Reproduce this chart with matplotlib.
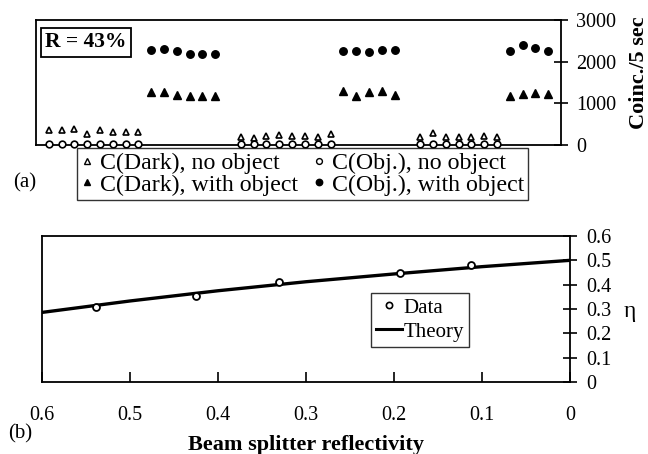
import matplotlib
matplotlib.use("Agg")
import matplotlib.pyplot as plt
from matplotlib.lines import Line2D

plt.rcParams['font.family'] = ['Liberation Serif', 'DejaVu Serif']

# ---------------- Panel (a) data ----------------
# measurement index along the run
idx_dark_noobj_1 = [0, 1, 2, 3, 4, 5, 6, 7]
idx_with_1 = [8, 9, 10, 11, 12, 13]
idx_dark_noobj_2 = [15, 16, 17, 18, 19, 20, 21, 22]
idx_with_2 = [23, 24, 25, 26, 27]
idx_dark_noobj_3 = [29, 30, 31, 32, 33, 34, 35]
idx_with_3 = [36, 37, 38, 39]

dark_noobj_1 = [360, 360, 375, 265, 360, 320, 320, 320]
dark_noobj_2 = [200, 160, 215, 240, 225, 215, 200, 255]
dark_noobj_3 = [200, 280, 185, 200, 185, 225, 185]

obj_noobj_1 = [25, 25, 25, 25, 25, 25, 25, 25]
obj_noobj_2 = [20, 20, 20, 20, 20, 20, 20, 20]
obj_noobj_3 = [15, 15, 15, 15, 15, 15, 15]

dark_with_1 = [1260, 1260, 1205, 1165, 1165, 1165]
dark_with_2 = [1285, 1165, 1270, 1285, 1205]
dark_with_3 = [1180, 1220, 1245, 1230]

obj_with_1 = [2290, 2310, 2250, 2195, 2185, 2185]
obj_with_2 = [2250, 2255, 2240, 2270, 2280]
obj_with_3 = [2265, 2405, 2330, 2250]

yticks_a = [0, 1000, 2000, 3000]

# ---------------- Panel (b) data ----------------
refl_data = [0.539, 0.425, 0.331, 0.193, 0.113]
eta_data = [0.307, 0.354, 0.410, 0.450, 0.481]
refl_theory = [0.6, 0.5, 0.4, 0.3, 0.2, 0.1, 0.0]
eta_theory = [0.286, 0.333, 0.375, 0.412, 0.444, 0.474, 0.500]
xticks_b = [0.6, 0.5, 0.4, 0.3, 0.2, 0.1, 0.0]
xticklabels_b = ['0.6', '0.5', '0.4', '0.3', '0.2', '0.1', '0']
yticks_b = [0, 0.1, 0.2, 0.3, 0.4, 0.5, 0.6]
yticklabels_b = ['0', '0.1', '0.2', '0.3', '0.4', '0.5', '0.6']

W, H = 648, 454
fig = plt.figure(figsize=(W / 100, H / 100), dpi=100)

def px_axes(l, t, r, b):
    return fig.add_axes([l / W, 1 - b / H, (r - l) / W, (b - t) / H])

# ---------------- Panel (a) ----------------
ax1 = px_axes(36, 20, 561, 145)
ms = 5.4
kw_open_tri = dict(marker='^', ms=5.0, mfc='white', mec='black', mew=1.2, ls='none', clip_on=False, zorder=4)
kw_fill_tri = dict(marker='^', ms=ms, mfc='black', mec='black', ls='none', clip_on=False, zorder=4)
kw_open_circ = dict(marker='o', ms=4.8, mfc='white', mec='black', mew=1.2, ls='none', clip_on=False, zorder=5)
kw_fill_circ = dict(marker='o', ms=ms, mfc='black', mec='black', ls='none', clip_on=False, zorder=4)

for ix, v in [(idx_dark_noobj_1, dark_noobj_1), (idx_dark_noobj_2, dark_noobj_2), (idx_dark_noobj_3, dark_noobj_3)]:
    ax1.plot(ix, v, **kw_open_tri)
for ix, v in [(idx_dark_noobj_1, obj_noobj_1), (idx_dark_noobj_2, obj_noobj_2), (idx_dark_noobj_3, obj_noobj_3)]:
    ax1.plot(ix, v, **kw_open_circ)
for ix, v in [(idx_with_1, dark_with_1), (idx_with_2, dark_with_2), (idx_with_3, dark_with_3)]:
    ax1.plot(ix, v, **kw_fill_tri)
for ix, v in [(idx_with_1, obj_with_1), (idx_with_2, obj_with_2), (idx_with_3, obj_with_3)]:
    ax1.plot(ix, v, **kw_fill_circ)

ax1.set_xlim(-1, 40)
ax1.set_ylim(0, 3000)
ax1.set_xticks([])
ax1.yaxis.tick_right()
ax1.set_yticks(yticks_a)
ax1.set_yticklabels([str(t) for t in yticks_a])
ax1.tick_params(axis='y', direction='inout', length=10, width=1.2, labelsize=14.5, pad=6)
for s in ax1.spines.values():
    s.set_linewidth(1.3)
fig.text(639 / W, 1 - 73 / H, 'Coinc./5 sec', fontsize=16, fontweight='bold',
         rotation=90, ha='center', va='center')
ax1.text(0.017, 0.90, 'R = 43%', transform=ax1.transAxes, fontsize=15.5, fontweight='bold',
         va='top', ha='left',
         bbox=dict(boxstyle='square,pad=0.2', fc='white', ec='black', lw=1.3))

handles_a = [
    Line2D([], [], marker='^', ms=4.2, mfc='white', mec='black', mew=1.0, ls='none'),
    Line2D([], [], marker='^', ms=4.6, mfc='black', mec='black', ls='none'),
    Line2D([], [], marker='o', ms=4.2, mfc='white', mec='black', mew=1.0, ls='none'),
    Line2D([], [], marker='o', ms=4.6, mfc='black', mec='black', ls='none'),
]
labels_a = ['C(Dark), no object', 'C(Dark), with object', 'C(Obj.), no object', 'C(Obj.), with object']
leg1 = fig.legend(handles_a, labels_a, ncol=2, loc='upper left',
                  bbox_to_anchor=(77 / W, 1 - 148 / H), fontsize=17.2, frameon=True,
                  fancybox=False, edgecolor='black', borderaxespad=0, handlelength=0.5,
                  handletextpad=0.3, columnspacing=0.6, labelspacing=0.0, borderpad=0.18)
leg1.get_frame().set_linewidth(1.0)

fig.text(25 / W, 1 - 183 / H, '(a)', fontsize=15, ha='center', va='center')

# ---------------- Panel (b) ----------------
ax2 = px_axes(42, 236, 570, 382)
ax2.plot(refl_theory, eta_theory, color='black', lw=2.4, label='Theory', zorder=3)
ax2.plot(refl_data, eta_data, marker='o', ms=5, mfc='white', mec='black', mew=1.3, ls='none',
         label='Data', zorder=4)
ax2.set_xlim(0.6, 0.0)
ax2.set_ylim(0, 0.6)
ax2.set_xticks(xticks_b)
ax2.set_xticklabels(xticklabels_b)
ax2.yaxis.tick_right()
ax2.set_yticks(yticks_b)
ax2.set_yticklabels(yticklabels_b)
ax2.tick_params(axis='x', direction='in', length=7, width=1.2, labelsize=14.5, pad=17)
ax2.tick_params(axis='y', direction='inout', length=10, width=1.2, labelsize=14.5, pad=7)
for s in ax2.spines.values():
    s.set_linewidth(1.3)
fig.text(630 / W, 1 - 311 / H, 'η', fontsize=17, ha='center', va='center')
fig.text(306 / W, 1 - 445 / H, 'Beam splitter reflectivity', fontsize=16, fontweight='bold',
         ha='center', va='center')

h_data = Line2D([], [], marker='o', ms=4.5, mfc='white', mec='black', mew=1.2, ls='none')
h_theory = Line2D([], [], color='black', lw=2.2)
leg2 = fig.legend([h_data, h_theory], ['Data', 'Theory'], loc='upper left',
                  bbox_to_anchor=(371 / W, 1 - 293 / H), fontsize=15, frameon=True,
                  fancybox=False, edgecolor='black', borderaxespad=0, handlelength=1.25,
                  handletextpad=0.05, labelspacing=0.2, borderpad=0.25)
leg2.get_frame().set_linewidth(1.0)

fig.text(20 / W, 1 - 434 / H, '(b)', fontsize=15, ha='center', va='center')

fig.savefig('out.png', dpi=100)
